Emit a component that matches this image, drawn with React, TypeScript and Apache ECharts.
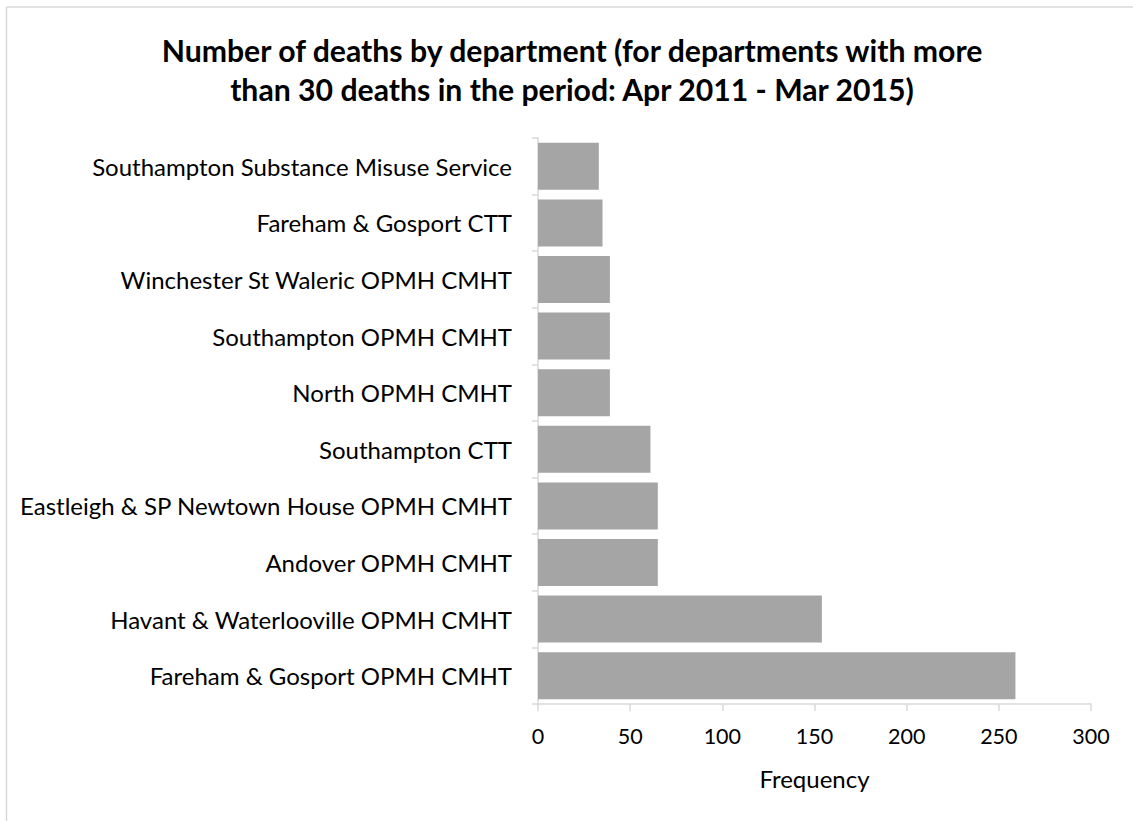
import React, { useEffect, useRef } from "react";
import * as echarts from "echarts";

const categories = [
  "Fareham & Gosport OPMH CMHT",
  "Havant & Waterlooville OPMH CMHT",
  "Andover OPMH CMHT",
  "Eastleigh & SP Newtown House OPMH CMHT",
  "Southampton CTT",
  "North OPMH CMHT",
  "Southampton OPMH CMHT",
  "Winchester St Waleric OPMH CMHT",
  "Fareham & Gosport CTT",
  "Southampton Substance Misuse Service",
];
const frequencies = [259, 154, 65, 65, 61, 39, 39, 39, 35, 33];
const titleText =
  "Number of deaths by department (for departments with more\nthan 30 deaths in the period: Apr 2011 - Mar 2015)";
const xAxisName = "Frequency";

const FONT = "Lato, 'Open Sans', sans-serif";
const AXIS_COLOR = "#d9d9d9";

export default function App() {
  const ref = useRef<HTMLDivElement>(null);
  useEffect(() => {
    if (!ref.current) return;
    const chart = echarts.init(ref.current, undefined, { renderer: "svg" });
    chart.setOption({
      animation: false,
      backgroundColor: "#ffffff",
      title: {
        text: titleText,
        left: 567,
        top: 25,
        textAlign: "center",
        textStyle: {
          fontFamily: FONT,
          fontWeight: "bold",
          fontSize: 30.2,
          lineHeight: 39,
          color: "#000000",
        },
      },
      graphic: [
        {
          type: "line",
          shape: { x1: 6.5, y1: 7, x2: 6.5, y2: 821 },
          style: { stroke: AXIS_COLOR, lineWidth: 1.5 },
        },
        {
          type: "line",
          shape: { x1: 6.5, y1: 7, x2: 1133, y2: 7 },
          style: { stroke: AXIS_COLOR, lineWidth: 1.5 },
        },
      ],
      grid: { left: 538, right: 42, top: 138, bottom: 117, containLabel: false },
      xAxis: {
        type: "value",
        min: 0,
        max: 300,
        interval: 50,
        name: xAxisName,
        nameLocation: "middle",
        nameGap: 62,
        nameTextStyle: { fontFamily: FONT, fontSize: 24, color: "#000" },
        axisLine: { show: true, lineStyle: { color: AXIS_COLOR, width: 1.5 } },
        axisTick: { show: true, length: 7, lineStyle: { color: AXIS_COLOR, width: 1.5 } },
        splitLine: { show: false },
        axisLabel: { fontFamily: FONT, fontSize: 21.5, color: "#000", margin: 21 },
      },
      yAxis: {
        type: "category",
        data: categories,
        axisLine: { show: true, lineStyle: { color: AXIS_COLOR, width: 1.5 } },
        axisTick: { show: true, length: 6, lineStyle: { color: AXIS_COLOR, width: 1.5 } },
        axisLabel: { fontFamily: FONT, fontSize: 24, color: "#000", margin: 26 },
      },
      series: [
        {
          type: "bar",
          data: frequencies,
          barCategoryGap: "17%",
          itemStyle: { color: "#a5a5a5" },
        },
      ],
    });
    return () => chart.dispose();
  }, []);
  return (
    <div
      ref={ref}
      style={{ position: "absolute", left: 0, top: 0, width: 1133, height: 821 }}
    />
  );
}
